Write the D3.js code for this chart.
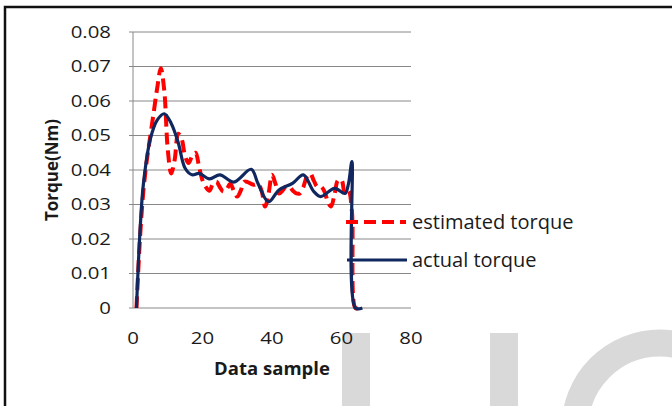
<html>
<head>
<meta charset="UTF-8">
<script src="https://d3js.org/d3.v7.min.js"></script>
<style>
  body { margin: 0; background: #fff; }
  text { font-family: "Open Sans", "Noto Sans", sans-serif; fill: #1a1a1a; }
</style>
</head>
<body>
<svg id="chart" width="672" height="406"></svg>
<script>
// data
let estSample = [1,2,3,4,5,6,7,8,9,10,11,12,13,14,15,16,17,18,19,20,21,22,23,24,25,26,27,28,29,30,31,32,33,34,35,36,37,38,39,40,41,42,43,44,45,46,47,48,49,50,51,52,53,54,55,56,57,58,59,60,61,62,63,64,65,66.5];
let estTorque = [0,0.02,0.034,0.043,0.05,0.057,0.064,0.0695,0.063,0.046,0.039,0.043,0.0505,0.049,0.044,0.042,0.044,0.045,0.041,0.037,0.035,0.034,0.036,0.0366,0.035,0.0337,0.0345,0.036,0.034,0.0323,0.034,0.0366,0.0365,0.036,0.0357,0.036,0.034,0.0294,0.033,0.0386,0.036,0.0332,0.034,0.0352,0.0352,0.034,0.0332,0.0332,0.035,0.038,0.039,0.037,0.0352,0.0352,0.034,0.031,0.0294,0.033,0.037,0.0371,0.0332,0.034,0.028,0,0,0];

let actSample = [1,2,3,5,7,9,11,13,15,17,19,22,25,29,34,36,39,42,46,49,52,54,58,61,62,63,64,66];
let actTorque = [0,0.022,0.036,0.049,0.0545,0.0563,0.0535,0.048,0.0405,0.0386,0.039,0.0374,0.0386,0.0365,0.0402,0.036,0.0308,0.0342,0.0362,0.0386,0.0338,0.0323,0.0347,0.0332,0.036,0.0424,0,0];

let yTicks = [0,0.01,0.02,0.03,0.04,0.05,0.06,0.07,0.08];
let xTicks = [0,20,40,60,80];
let seriesNames = ["estimated torque", "actual torque"];

let svg = d3.select("svg#chart");

// watermark letters behind the chart
let wm = "#d9d9d9";
svg.append("rect").attr("x", 342).attr("y", 333).attr("width", 28).attr("height", 80).attr("fill", wm);
svg.append("rect").attr("x", 490).attr("y", 333).attr("width", 28).attr("height", 80).attr("fill", wm);
svg.append("circle").attr("cx", 660).attr("cy", 428).attr("r", 85)
   .attr("fill", "none").attr("stroke", wm).attr("stroke-width", 27);

// frame
svg.append("path").attr("d", "M5,406 V7 H672")
   .attr("fill", "none").attr("stroke", "#111").attr("stroke-width", 2.5);

let x = d3.scaleLinear().domain([0, 80]).range([133, 411]);
let y = d3.scaleLinear().domain([0, 0.08]).range([308, 32]);

// horizontal gridlines
yTicks.forEach(t => {
    svg.append("line")
       .attr("x1", x(0) - 4).attr("x2", x(80))
       .attr("y1", y(t)).attr("y2", y(t))
       .attr("stroke", "#888").attr("stroke-width", 1);
});
svg.append("line")
   .attr("x1", x(0)).attr("x2", x(0))
   .attr("y1", y(0.08)).attr("y2", y(0))
   .attr("stroke", "#888").attr("stroke-width", 1);

// tick labels (the original font is wider, so stretch a bit)
yTicks.forEach(t => {
    svg.append("text")
       .attr("transform", `translate(111,${y(t)}) scale(1.2,1)`).attr("dy", "0.35em")
       .attr("text-anchor", "end").attr("font-size", 17)
       .text(t === 0 ? "0" : d3.format(".2f")(t));
});
xTicks.forEach(t => {
    svg.append("text")
       .attr("transform", `translate(${x(t)},338) scale(1.2,1)`).attr("dy", "0.35em")
       .attr("text-anchor", "middle").attr("font-size", 17)
       .text(t);
});

// axis titles
svg.append("text")
   .attr("transform", "translate(272,369) scale(1.09,1)").attr("dy", "0.35em")
   .attr("text-anchor", "middle").attr("font-size", 17).attr("font-weight", "bold")
   .text("Data sample");
svg.append("text")
   .attr("transform", "translate(52,170) rotate(-90)").attr("dy", "0.35em")
   .attr("text-anchor", "middle").attr("font-size", 17).attr("font-weight", "bold")
   .text("Torque(Nm)");

// series
let line = d3.line().curve(d3.curveCatmullRom.alpha(0.5))
             .x(d => x(d[0])).y(d => y(d[1]));

svg.append("path")
   .attr("d", line(estSample.map((s, i) => [s, estTorque[i]])))
   .attr("fill", "none").attr("stroke", "#ff0000").attr("stroke-width", 4)
   .attr("stroke-dasharray", "12,6");

svg.append("path")
   .attr("d", line(actSample.map((s, i) => [s, actTorque[i]])))
   .attr("fill", "none").attr("stroke", "#10275f").attr("stroke-width", 3.2);

// legend
svg.append("line").attr("x1", 346).attr("x2", 406).attr("y1", 222).attr("y2", 222)
   .attr("stroke", "#ff0000").attr("stroke-width", 4).attr("stroke-dasharray", "12,6");
svg.append("line").attr("x1", 347).attr("x2", 407).attr("y1", 260).attr("y2", 260)
   .attr("stroke", "#10275f").attr("stroke-width", 3.2);
svg.append("text").attr("x", 412).attr("y", 222).attr("dy", "0.35em")
   .attr("font-size", 20).text(seriesNames[0]);
svg.append("text").attr("x", 412).attr("y", 260).attr("dy", "0.35em")
   .attr("font-size", 20).text(seriesNames[1]);
</script>
</body>
</html>
